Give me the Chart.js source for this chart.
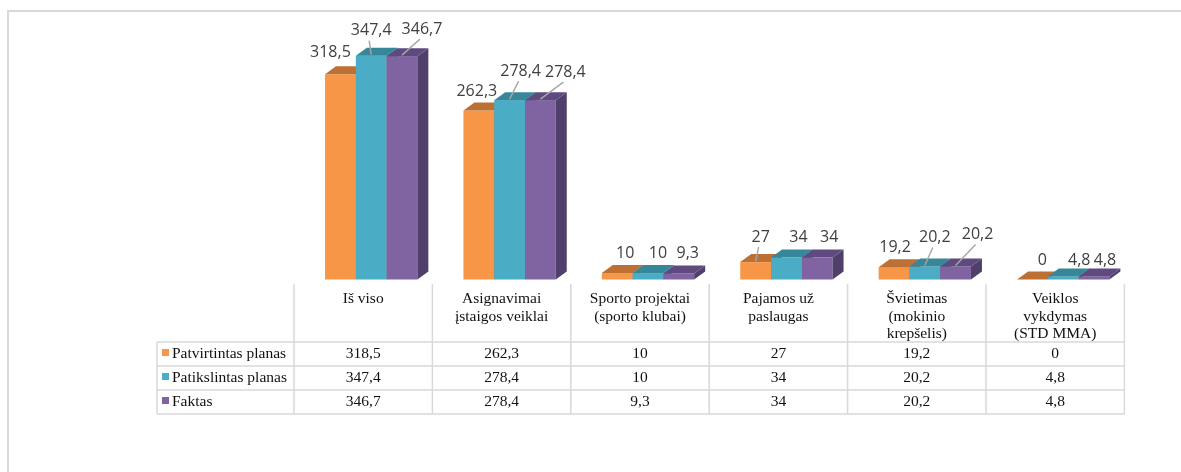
<!DOCTYPE html>
<html>
<head>
<meta charset="utf-8">
<script src="https://cdn.jsdelivr.net/npm/chart.js@4.4.1/dist/chart.umd.min.js"></script>
<style>
  html, body { margin: 0; padding: 0; background: #ffffff; }
  #wrap { width: 1181px; height: 472px; position: relative; }
</style>
</head>
<body>
<div id="wrap"><canvas id="c" width="1181" height="472"></canvas></div>
<script>
// ---- data ----
const categories = [
  ["Iš viso"],
  ["Asignavimai", "įstaigos veiklai"],
  ["Sporto projektai", "(sporto klubai)"],
  ["Pajamos už", "paslaugas"],
  ["Švietimas", "(mokinio", "krepšelis)"],
  ["Veiklos", "vykdymas", "(STD MMA)"]
];
const seriesNames = ["Patvirtintas planas", "Patikslintas planas", "Faktas"];
const patvirtintas = [318.5, 262.3, 10, 27, 19.2, 0];
const patikslintas = [347.4, 278.4, 10, 34, 20.2, 4.8];
const faktas = [346.7, 278.4, 9.3, 34, 20.2, 4.8];

// ---- styles ----
const frontColors = ["#F79646", "#4BACC6", "#8064A2"];
const topColors = ["#BD7034", "#37879A", "#5F4A80"];
const sideColors = ["#A55F2A", "#2F7384", "#4F3F6A"];
const DEPTH_X = 11, DEPTH_Y = 8, GROUP_SHIFT = 8;
// label nudges [dx, dy] from bar front centre / front top, and leader flags
const labelNudge = [
  [[-10,-22],[-2,-19],[8,-20],[5,-25],[1,-20],[10,-19]],
  [[0,-25],[11,-29],[10,-20],[12,-20],[10,-29],[16,-16]],
  [[20,-27],[25,-28],[9,-20],[12,-20],[22,-32],[11,-16]]
];
const leader = [
  [false,false,false,true,false,false],
  [true,true,false,false,true,false],
  [true,true,false,false,true,false]
];
const gridColor = "#D9D9D9";
const fmt = v => String(v).replace('.', ',');

const bar3d = {
  id: 'bar3d',
  beforeDatasetsDraw() { return false; },
  afterDraw(chart) {
    const ctx = chart.ctx;
    const xs = chart.scales.x;
    ctx.save();

    // outer frame
    ctx.strokeStyle = gridColor;
    ctx.lineWidth = 2;
    ctx.beginPath();
    ctx.moveTo(8, 472); ctx.lineTo(8, 11); ctx.lineTo(1181, 11);
    ctx.stroke();

    // 3D bars, painted left to right
    const metas = [0,1,2].map(i => chart.getDatasetMeta(i));
    const n = categories.length;
    for (let c = 0; c < n; c++) {
      for (let s = 0; s < 3; s++) {
        const el = metas[s].data[c];
        const x0 = el.x - el.width / 2 + GROUP_SHIFT;
        const x1 = el.x + el.width / 2 + GROUP_SHIFT;
        const yt = el.y, yb = el.base;
        ctx.fillStyle = frontColors[s];
        ctx.fillRect(x0, yt, x1 - x0, yb - yt);
        ctx.fillStyle = sideColors[s];
        ctx.beginPath();
        ctx.moveTo(x1, yt); ctx.lineTo(x1 + DEPTH_X, yt - DEPTH_Y);
        ctx.lineTo(x1 + DEPTH_X, yb - DEPTH_Y); ctx.lineTo(x1, yb);
        ctx.closePath(); ctx.fill();
        ctx.fillStyle = topColors[s];
        ctx.beginPath();
        ctx.moveTo(x0, yt); ctx.lineTo(x1, yt);
        ctx.lineTo(x1 + DEPTH_X, yt - DEPTH_Y); ctx.lineTo(x0 + DEPTH_X, yt - DEPTH_Y);
        ctx.closePath(); ctx.fill();
      }
    }

    // data labels
    ctx.font = '16px "Open Sans", sans-serif';
    ctx.textAlign = 'center';
    ctx.textBaseline = 'middle';
    for (let s = 0; s < 3; s++) {
      const data = chart.data.datasets[s].data;
      for (let c = 0; c < n; c++) {
        const el = metas[s].data[c];
        const cx = el.x + GROUP_SHIFT;
        const lx = cx + labelNudge[s][c][0];
        const ly = el.y + labelNudge[s][c][1];
        if (leader[s][c]) {
          ctx.strokeStyle = '#A6A6A6';
          ctx.lineWidth = 1.4;
          ctx.beginPath();
          ctx.moveTo(lx - 2, ly + 10);
          ctx.lineTo(cx, el.y - 1);
          ctx.stroke();
        }
        ctx.fillStyle = '#404040';
        ctx.fillText(fmt(data[c]), lx, ly);
      }
    }

    // data table
    const half = (xs.getPixelForValue(1) - xs.getPixelForValue(0)) / 2;
    const right = xs.getPixelForValue(n - 1) + half;
    const tableLeft = 157;
    const headTop = 284, row0 = 342, rowH = 24;
    ctx.strokeStyle = gridColor;
    ctx.lineWidth = 1.5;
    ctx.beginPath();
    for (let c = 0; c <= n; c++) {
      const x = c === n ? right : xs.getPixelForValue(c) - half;
      ctx.moveTo(x, headTop); ctx.lineTo(x, row0 + 3 * rowH);
    }
    ctx.moveTo(tableLeft, row0); ctx.lineTo(tableLeft, row0 + 3 * rowH);
    for (let r = 0; r <= 3; r++) {
      ctx.moveTo(tableLeft, row0 + r * rowH); ctx.lineTo(right, row0 + r * rowH);
    }
    ctx.stroke();

    ctx.fillStyle = '#111111';
    ctx.font = '15.5px "Liberation Serif", "Times New Roman", serif';
    ctx.textAlign = 'center';
    ctx.textBaseline = 'middle';
    for (let c = 0; c < n; c++) {
      const cx = xs.getPixelForValue(c);
      const lines = chart.data.labels[c];
      lines.forEach((t, i) => ctx.fillText(t, cx, 299 + i * 17.5));
      for (let s = 0; s < 3; s++) {
        ctx.fillText(fmt(chart.data.datasets[s].data[c]), cx, row0 + s * rowH + rowH / 2);
      }
    }
    ctx.textAlign = 'left';
    for (let s = 0; s < 3; s++) {
      const yc = row0 + s * rowH + rowH / 2;
      ctx.fillStyle = frontColors[s];
      ctx.fillRect(162, yc - 5, 7, 7);
      ctx.fillStyle = '#111111';
      ctx.fillText(chart.data.datasets[s].label, 172, yc);
    }
    ctx.restore();
  }
};

new Chart(document.getElementById('c'), {
  type: 'bar',
  data: {
    labels: categories,
    datasets: [
      { label: seriesNames[0], data: patvirtintas, backgroundColor: frontColors[0] },
      { label: seriesNames[1], data: patikslintas, backgroundColor: frontColors[1] },
      { label: seriesNames[2], data: faktas, backgroundColor: frontColors[2] }
    ]
  },
  options: {
    responsive: false,
    animation: false,
    events: [],
    layout: { padding: { left: 294, right: 1181 - 294 - 830.4, top: 54, bottom: 192.5 } },
    datasets: { bar: { categoryPercentage: 0.667, barPercentage: 1 } },
    scales: {
      x: { display: false },
      y: { display: false, min: 0, max: 350 }
    },
    plugins: { legend: { display: false }, tooltip: { enabled: false } }
  },
  plugins: [bar3d]
});
</script>
</body>
</html>
